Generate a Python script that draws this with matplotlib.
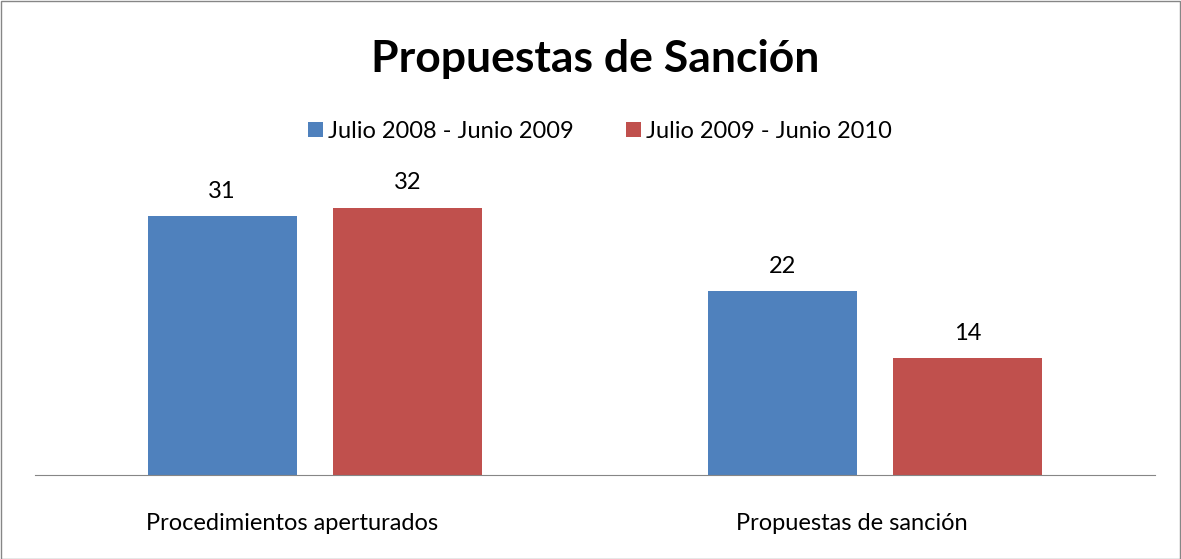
import matplotlib
matplotlib.use("Agg")
import matplotlib.pyplot as plt
import matplotlib.transforms as mtransforms
import numpy as np
from matplotlib.patches import Rectangle

plt.rcParams["font.family"] = ["Lato", "DejaVu Sans"]

# Data
categories = ["Procedimientos aperturados", "Propuestas de sanción"]
series_names = ["Julio 2008 - Junio 2009", "Julio 2009 - Junio 2010"]
values_2008_2009 = [31, 22]
values_2009_2010 = [32, 14]
colors = ["#4F81BD", "#C0504D"]

fig = plt.figure(figsize=(11.81, 5.59), dpi=100)
ax = fig.add_axes([35 / 1181, 84 / 559, 1120 / 1181, 305 / 559])

x = np.arange(len(categories))
width = 0.266
gap = 0.066
offsets = [-(width + gap) / 2, (width + gap) / 2]

for vals, name, col, off in zip([values_2008_2009, values_2009_2010], series_names, colors, offsets):
    bars = ax.bar(x + off, vals, width, color=col, label=name)
    for b, v in zip(bars, vals):
        ax.text(b.get_x() + b.get_width() / 2, v + 1.7, str(v), ha="center", va="bottom", fontsize=17)

ax.set_xlim(-0.5, 1.5)
ax.set_ylim(0, 36.5)
for side in ["left", "right", "top"]:
    ax.spines[side].set_visible(False)
ax.spines["bottom"].set_color("#868686")
ax.set_yticks([])
ax.set_xticks(x)
ax.set_xticklabels(categories, fontsize=17)
ax.tick_params(axis="x", length=0, pad=27)

# category labels sit a little left of the group centre, like the original
shift = mtransforms.ScaledTranslation(-0.23, 0, fig.dpi_scale_trans)
for lbl in ax.get_xticklabels():
    lbl.set_transform(lbl.get_transform() + shift)

fig.text(0.504, 0.895, "Propuestas de Sanción", ha="center", va="center", fontsize=32, fontweight="bold")
fig.legend(loc="center", bbox_to_anchor=(0.508, 0.765), ncol=2, frameon=False, fontsize=17,
           handlelength=0.65, handleheight=0.65, handletextpad=0.2, columnspacing=2.2)

fig.patches.append(Rectangle((0.5 / 1181, 0.5 / 559), 1 - 1.5 / 1181, 1 - 1.5 / 559, transform=fig.transFigure,
                             fill=False, edgecolor="#868686", linewidth=1))

fig.savefig("out.png", dpi=100)
